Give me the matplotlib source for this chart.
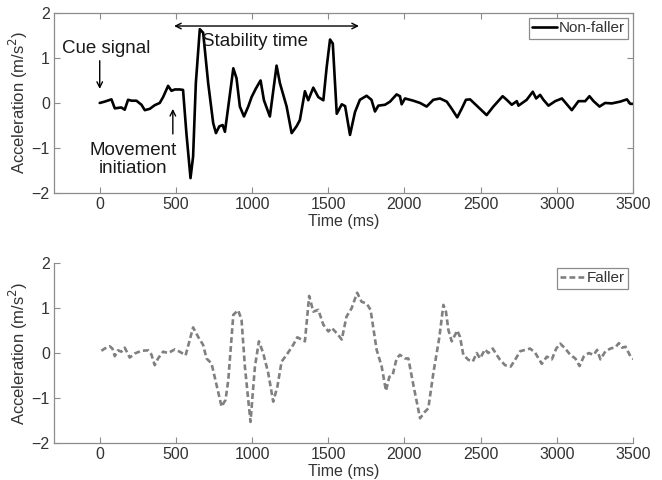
import numpy as np
import matplotlib.pyplot as plt

plt.rcParams['font.family'] = ['Liberation Sans', 'DejaVu Sans']

# Non-faller trace (ms, m/s^2)
t_nf = [0, 33, 77, 99, 142, 164, 186, 210, 241, 274, 296, 329, 361, 394, 416,
        449, 471, 493, 525, 547, 569, 596, 613, 631, 657, 679, 712, 745, 763,
        785, 807, 822, 844, 877, 898, 920, 947, 975, 997, 1025, 1056, 1078,
        1117, 1161, 1183, 1227, 1260, 1292, 1314, 1347, 1369, 1402, 1435,
        1468, 1490, 1512, 1530, 1556, 1589, 1611, 1643, 1676, 1708, 1752,
        1784, 1807, 1829, 1873, 1906, 1949, 1971, 1982, 2004, 2059, 2103,
        2146, 2190, 2234, 2278, 2311, 2347, 2376, 2404, 2431, 2475, 2540,
        2584, 2645, 2672, 2705, 2738, 2749, 2803, 2843, 2865, 2891, 2913,
        2946, 2990, 3034, 3099, 3143, 3187, 3215, 3242, 3281, 3318, 3362,
        3417, 3461, 3483, 3505]
a_nf = [0.0, 0.03, 0.08, -0.12, -0.1, -0.15, 0.07, 0.05, 0.05, -0.04, -0.16,
        -0.13, -0.05, 0.0, 0.13, 0.38, 0.27, 0.3, 0.3, 0.29, -0.67, -1.67,
        -1.19, 0.44, 1.64, 1.56, 0.44, -0.45, -0.67, -0.52, -0.49, -0.64,
        -0.08, 0.77, 0.55, -0.08, -0.3, -0.08, 0.13, 0.32, 0.5, 0.06, -0.3,
        0.83, 0.44, -0.08, -0.67, -0.52, -0.38, 0.26, 0.06, 0.34, 0.13, 0.06,
        0.8, 1.41, 1.32, -0.24, -0.03, -0.07, -0.71, -0.2, 0.07, 0.16, 0.07,
        -0.19, -0.06, -0.04, 0.03, 0.19, 0.15, -0.03, 0.1, 0.05, 0.0, -0.08,
        0.07, 0.1, 0.03, -0.13, -0.32, -0.13, 0.07, 0.08, -0.06, -0.27,
        -0.08, 0.15, 0.07, -0.04, 0.04, -0.06, 0.07, 0.25, 0.1, 0.18, 0.07,
        -0.06, 0.04, 0.1, -0.16, 0.04, 0.04, 0.15, 0.04, -0.08, 0.0, -0.01,
        0.03, 0.08, -0.02, -0.02]

# Faller trace
t_f = [11, 33, 66, 83, 99, 120, 142, 164, 197, 230, 274, 318, 339, 361, 383,
       416, 449, 493, 525, 564, 613, 646, 679, 701, 734, 767, 800, 826, 844,
       877, 909, 931, 953, 975, 990, 1003, 1019, 1045, 1073, 1106, 1139,
       1166, 1194, 1227, 1270, 1297, 1325, 1347, 1375, 1402, 1435, 1468,
       1501, 1523, 1556, 1589, 1620, 1653, 1690, 1719, 1752, 1778, 1818,
       1851, 1879, 1901, 1923, 1949, 1971, 2004, 2026, 2059, 2103, 2136,
       2157, 2190, 2230, 2256, 2273, 2289, 2311, 2347, 2365, 2387, 2420,
       2449, 2475, 2497, 2529, 2551, 2580, 2606, 2628, 2661, 2698, 2727,
       2760, 2825, 2858, 2902, 2935, 2968, 2997, 3023, 3056, 3089, 3122,
       3150, 3177, 3210, 3243, 3265, 3287, 3320, 3353, 3386, 3408, 3430,
       3452, 3485, 3507]
a_f = [0.05, 0.1, 0.15, 0.1, -0.07, 0.06, 0.03, 0.12, -0.1, -0.01, 0.05, 0.06,
       -0.03, -0.27, -0.12, 0.03, 0.0, 0.08, 0.03, -0.05, 0.57, 0.36, 0.18,
       -0.12, -0.23, -0.71, -1.19, -1.04, -0.6, 0.85, 0.95, 0.74, -0.3,
       -1.04, -1.53, -0.96, -0.3, 0.26, 0.0, -0.44, -1.08, -0.75, -0.19,
       -0.04, 0.18, 0.35, 0.3, 0.26, 1.27, 0.92, 0.96, 0.63, 0.48, 0.56,
       0.44, 0.3, 0.81, 0.99, 1.34, 1.14, 1.1, 0.96, 0.07, -0.3, -0.84,
       -0.53, -0.49, -0.12, -0.04, -0.12, -0.12, -0.71, -1.45, -1.3, -1.23,
       -0.45, 0.36, 1.07, 0.92, 0.51, 0.26, 0.5, 0.36, -0.04, -0.15, -0.19,
       0.0, -0.12, 0.08, 0.0, 0.1, -0.04, -0.15, -0.27, -0.3, -0.15, 0.04,
       0.1, 0.01, -0.24, -0.08, -0.14, 0.1, 0.21, 0.1, -0.04, -0.12, -0.29,
       -0.08, 0.0, -0.04, 0.07, -0.14, 0.04, 0.1, 0.13, 0.22, 0.12, 0.14,
       -0.08, -0.14]

XTICKS = [0, 500, 1000, 1500, 2000, 2500, 3000, 3500]
YTICKS = [-2, -1, 0, 1, 2]
SPINE = '#8c8c8c'
TXT = '#333333'

fig = plt.figure(figsize=(6.62, 4.8), dpi=100)
ax1 = fig.add_axes([0.0816, 0.598, 0.8744, 0.375])
ax2 = fig.add_axes([0.0816, 0.077, 0.8744, 0.375])

ax1.plot(t_nf, a_nf, color='black', lw=1.9, label='Non-faller',
         solid_joinstyle='round', solid_capstyle='round')
ax2.plot(t_f, a_f, color='#808080', lw=1.9, ls=(0, (2.2, 1.2)),
         label='Faller', dash_joinstyle='round')

for ax in (ax1, ax2):
    ax.set_xlim(-300, 3500)
    ax.set_ylim(-2, 2)
    ax.set_xticks(XTICKS)
    ax.set_yticks(YTICKS)
    ax.tick_params(direction='in', length=4, width=0.8, color=SPINE,
                   labelsize=11.5, labelcolor=TXT, pad=3)
    for sp in ax.spines.values():
        sp.set_color(SPINE)
        sp.set_linewidth(0.9)
    ax.set_xlabel('Time (ms)', fontsize=11.5, color=TXT, labelpad=1.5)
    ax.set_ylabel('Acceleration (m/s$^2$)', fontsize=12, color=TXT,
                  labelpad=1)
    leg = ax.legend(loc='upper right', fontsize=11, handlelength=1.6,
                    handletextpad=0.1, borderpad=0.25, borderaxespad=0.3,
                    fancybox=False, framealpha=1)
    leg.get_frame().set_edgecolor(SPINE)
    leg.get_frame().set_linewidth(0.9)
    for tx in leg.get_texts():
        tx.set_color(TXT)

ax1.tick_params(top=True, right=True)
ax2.spines['top'].set_visible(False)
ax2.spines['right'].set_visible(False)

# annotations on the top panel
ax1.annotate('', xy=(0, 0.25), xytext=(0, 1.0),
             arrowprops=dict(arrowstyle='->', color='black', lw=1.0))
ax1.text(45, 1.22, 'Cue signal', fontsize=13.5, color='#1a1a1a',
         ha='center', va='center')
ax1.annotate('', xy=(480, -0.07), xytext=(480, -0.75),
             arrowprops=dict(arrowstyle='->', color='black', lw=1.0))
ax1.text(217, -1.25, 'Movement\ninitiation', fontsize=13.5, color='#1a1a1a',
         ha='center', va='center', linespacing=1.1)
ax1.annotate('', xy=(470, 1.71), xytext=(1720, 1.71),
             arrowprops=dict(arrowstyle='<->', color='black', lw=1.0))
ax1.text(1020, 1.36, 'Stability time', fontsize=13.5, color='#1a1a1a',
         ha='center', va='center')

fig.savefig('out.png', dpi=100)
